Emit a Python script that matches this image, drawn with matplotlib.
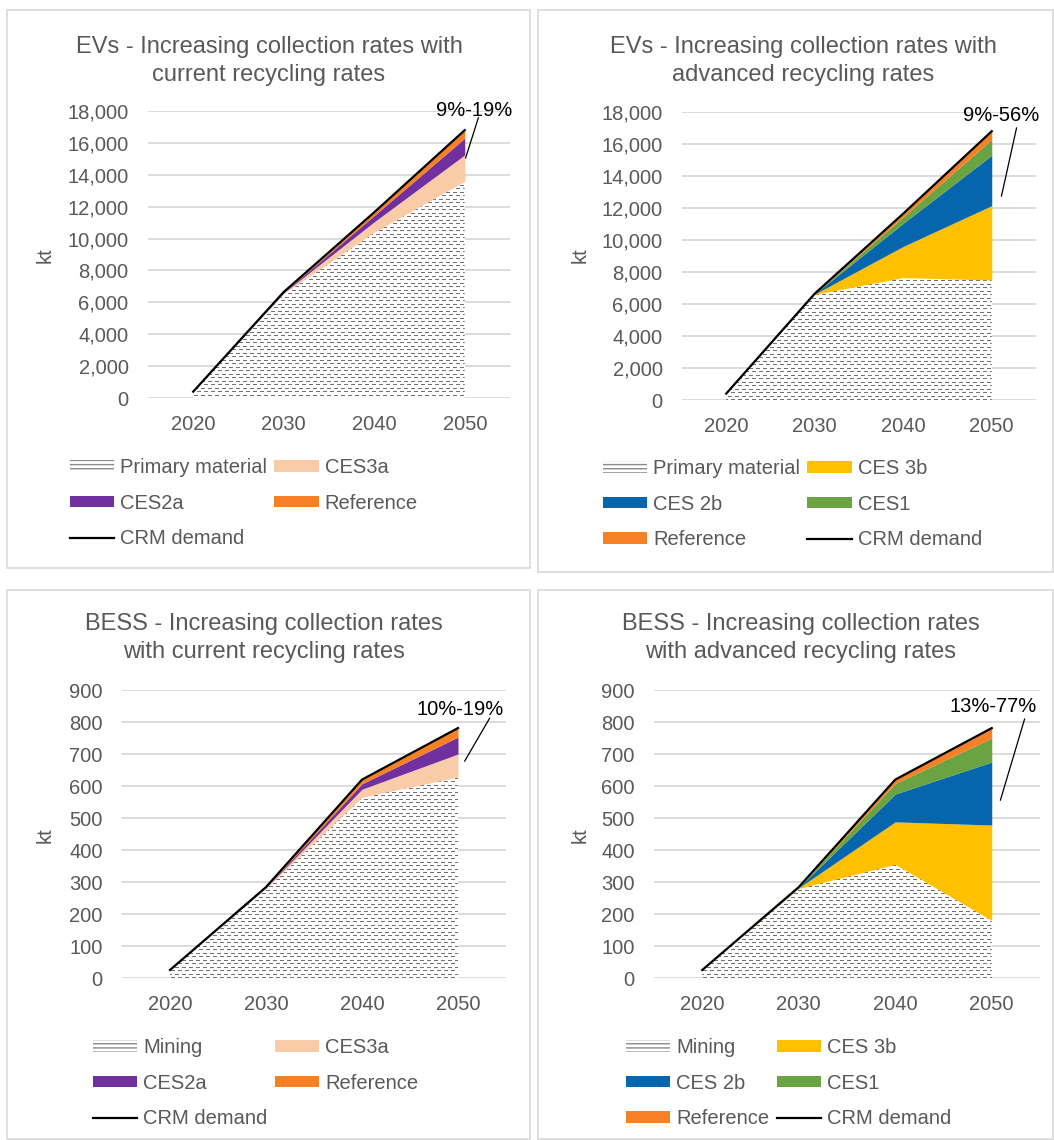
import numpy as np
import matplotlib
matplotlib.use('Agg')
import matplotlib.pyplot as plt
from matplotlib.patches import Patch, Rectangle
from matplotlib.lines import Line2D
from matplotlib.ticker import FuncFormatter

plt.rcParams['font.family'] = ['Liberation Sans', 'DejaVu Sans']

years = ['2020', '2030', '2040', '2050']

# EVs, current recycling rates (kt)
ev_cur_primary = [400, 6550, 10400, 13600]
ev_cur_ces3a = [0, 50, 650, 1650]
ev_cur_ces2a = [0, 30, 400, 1050]
ev_cur_ref = [0, 20, 200, 500]
ev_demand = [400, 6650, 11650, 16800]

# EVs, advanced recycling rates (kt)
ev_adv_primary = [400, 6600, 7650, 7500]
ev_adv_ces3b = [0, 20, 1950, 4650]
ev_adv_ces2b = [0, 20, 1450, 3150]
ev_adv_ces1 = [0, 5, 400, 1000]
ev_adv_ref = [0, 5, 200, 500]

# BESS, current recycling rates (kt)
bess_cur_mining = [25, 280, 565, 628]
bess_cur_ces3a = [0, 2, 25, 72]
bess_cur_ces2a = [0, 1, 17, 53]
bess_cur_ref = [0, 1, 13, 28]
bess_demand = [25, 284, 620, 781]

# BESS, advanced recycling rates (kt)
bess_adv_mining = [25, 280, 355, 180]
bess_adv_ces3b = [0, 2, 133, 298]
bess_adv_ces2b = [0, 1, 87, 197]
bess_adv_ces1 = [0, 1, 33, 75]
bess_adv_ref = [0, 0, 12, 31]

c_ces3a = '#F9CBA7'
c_ces2a = '#7030A0'
c_ref = '#F58025'
c_ces3b = '#FFC000'
c_ces2b = '#0566AE'
c_ces1 = '#6AA342'
grey = '#595959'

W, H = 1054, 1140
fig = plt.figure(figsize=(W / 100, H / 100), dpi=100)


def px_axes(left, right, top, bottom):
    return fig.add_axes([left / W, 1 - bottom / H, (right - left) / W, (bottom - top) / H])


def dash_image(ax):
    pos = ax.get_position()
    w = int(round(pos.width * W))
    h = int(round(pos.height * H))
    img = np.ones((h, w, 3))
    cols = np.arange(w)
    for r in range(0, h, 7):
        img[r, (cols % 7) < 4] = 0.45
        if r + 4 < h:
            img[r + 4, ((cols + 3) % 7) < 4] = 0.45
    return img


def panel(ax, base, base_label, layers, demand, ymax, step, note, note_xy, note_line):
    x = np.arange(len(years))
    ax.set_xlim(-0.5, len(years) - 0.5)
    ax.set_ylim(0, ymax)
    # hatched base area: pattern image clipped to the filled polygon
    coll = ax.fill_between(x, 0, base, facecolor='none', lw=0)
    im = ax.imshow(dash_image(ax), extent=(-0.5, len(years) - 0.5, 0, ymax),
                   aspect='auto', interpolation='nearest', zorder=2)
    im.set_clip_path(coll.get_paths()[0], ax.transData)
    bottom = np.array(base, dtype=float)
    for vals, lab, col in layers:
        top = bottom + np.array(vals)
        ax.fill_between(x, bottom, top, color=col, lw=0, zorder=3)
        bottom = top
    ax.plot(x, demand, color='black', lw=1.6, zorder=4)

    ax.set_xticks(x)
    ax.set_xticklabels(years)
    ax.set_yticks(np.arange(0, ymax + 1, step))
    ax.yaxis.set_major_formatter(FuncFormatter(lambda v, p: f'{int(v):,}'))
    ax.tick_params(length=0, labelsize=14.5, colors=grey)
    ax.tick_params(axis='x', pad=12)
    ax.tick_params(axis='y', pad=14)
    ax.grid(axis='y', color='#d9d9d9', lw=1.3)
    ax.set_axisbelow(True)
    for s in ax.spines.values():
        s.set_visible(False)

    ax.text(note_xy[0], note_xy[1], note, fontsize=14.5, ha='center', va='center', color='black')
    ax.plot(note_line[0], note_line[1], color='black', lw=0.9, clip_on=False, zorder=5)

    handles = [Patch(facecolor='white', edgecolor='#8a8a8a', hatch='----', lw=0)]
    labels = [base_label]
    for vals, lab, col in layers:
        handles.append(Patch(facecolor=col, lw=0))
        labels.append(lab)
    handles.append(Line2D([], [], color='black', lw=1.6))
    labels.append('CRM demand')
    # legend reads row by row, matplotlib fills columns
    handles = handles[0::2] + handles[1::2]
    labels = labels[0::2] + labels[1::2]
    return handles, labels


def place_legend(ax, handles, labels, x, y):
    ax.legend(handles, labels, loc='upper left', bbox_to_anchor=(x / W, 1 - y / H),
              bbox_transform=fig.transFigure, ncol=2, frameon=False, borderpad=0,
              borderaxespad=0, handlelength=2.2, handleheight=0.5, handletextpad=0.3,
              columnspacing=0.35, labelspacing=0.82, fontsize=14.5, labelcolor=grey)


# panel boxes
for (l, t, r, b) in [(7, 10, 530, 568), (538, 10, 1053, 572), (7, 590, 530, 1139), (538, 590, 1053, 1139)]:
    fig.add_artist(Rectangle((l / W, 1 - b / H), (r - l) / W, (b - t) / H, transform=fig.transFigure,
                             fill=False, ec='#d9d9d9', lw=1.2))

# EVs current
ax1 = px_axes(148, 510, 111, 398)
h, lab = panel(ax1, ev_cur_primary, 'Primary material',
               [(ev_cur_ces3a, 'CES3a', c_ces3a), (ev_cur_ces2a, 'CES2a', c_ces2a), (ev_cur_ref, 'Reference', c_ref)],
               ev_demand, 18000, 2000, '9%-19%', (3.10, 18050), ([3.15, 3.01], [17570, 15060]))
place_legend(ax1, h, lab, 70, 458)
fig.text(269 / W, 1 - 61 / H, 'EVs - Increasing collection rates with\ncurrent recycling rates',
         ha='center', va='center', fontsize=17, color=grey, linespacing=1.4)
fig.text(45 / W, 1 - 255 / H, 'kt', rotation=90, ha='center', va='center', fontsize=14.5, color=grey)

# EVs advanced
ax2 = px_axes(682, 1036, 112, 400)
h, lab = panel(ax2, ev_adv_primary, 'Primary material',
               [(ev_adv_ces3b, 'CES 3b', c_ces3b), (ev_adv_ces2b, 'CES 2b', c_ces2b),
                (ev_adv_ces1, 'CES1', c_ces1), (ev_adv_ref, 'Reference', c_ref)],
               ev_demand, 18000, 2000, '9%-56%', (3.11, 17800), ([3.28, 3.11], [17000, 12750]))
place_legend(ax2, h, lab, 603, 459)
fig.text(803 / W, 1 - 61 / H, 'EVs - Increasing collection rates with\nadvanced recycling rates',
         ha='center', va='center', fontsize=17, color=grey, linespacing=1.4)
fig.text(580 / W, 1 - 255 / H, 'kt', rotation=90, ha='center', va='center', fontsize=14.5, color=grey)

# BESS current
ax3 = px_axes(122, 506, 690, 978)
h, lab = panel(ax3, bess_cur_mining, 'Mining',
               [(bess_cur_ces3a, 'CES3a', c_ces3a), (bess_cur_ces2a, 'CES2a', c_ces2a), (bess_cur_ref, 'Reference', c_ref)],
               bess_demand, 900, 100, '10%-19%', (3.02, 838), ([3.33, 3.07], [812, 678]))
place_legend(ax3, h, lab, 93, 1038)
fig.text(264 / W, 1 - 638 / H, 'BESS - Increasing collection rates\nwith current recycling rates',
         ha='center', va='center', fontsize=17, color=grey, linespacing=1.4)
fig.text(45 / W, 1 - 835 / H, 'kt', rotation=90, ha='center', va='center', fontsize=14.5, color=grey)

# BESS advanced
ax4 = px_axes(654, 1040, 690, 978)
h, lab = panel(ax4, bess_adv_mining, 'Mining',
               [(bess_adv_ces3b, 'CES 3b', c_ces3b), (bess_adv_ces2b, 'CES 2b', c_ces2b),
                (bess_adv_ces1, 'CES1', c_ces1), (bess_adv_ref, 'Reference', c_ref)],
               bess_demand, 900, 100, '13%-77%', (3.01, 848), ([3.34, 3.09], [809, 556]))
place_legend(ax4, h, lab, 626, 1038)
fig.text(801 / W, 1 - 638 / H, 'BESS - Increasing collection rates\nwith advanced recycling rates',
         ha='center', va='center', fontsize=17, color=grey, linespacing=1.4)
fig.text(580 / W, 1 - 835 / H, 'kt', rotation=90, ha='center', va='center', fontsize=14.5, color=grey)

fig.savefig('out.png', dpi=100)
